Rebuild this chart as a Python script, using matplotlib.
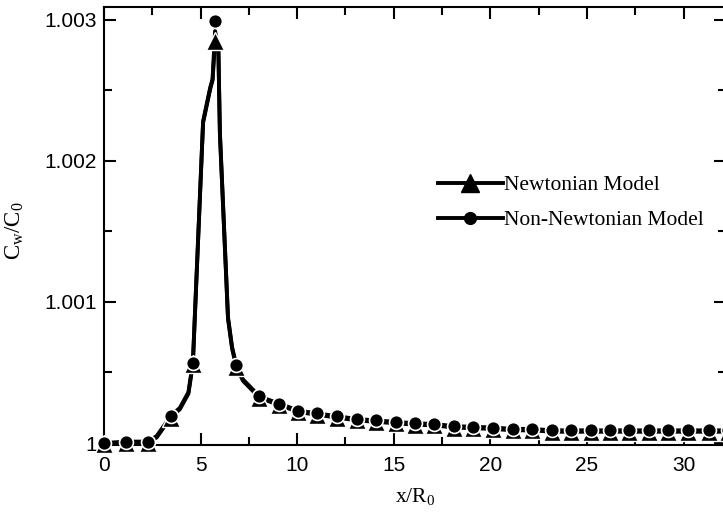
import matplotlib
matplotlib.use('Agg')
import matplotlib.pyplot as plt
from matplotlib.lines import Line2D
from matplotlib.ticker import MultipleLocator, FuncFormatter

plt.rcParams['mathtext.fontset'] = 'custom'
plt.rcParams['mathtext.rm'] = 'Liberation Serif'
plt.rcParams['mathtext.it'] = 'Liberation Serif:italic'

# marker positions (x/R0)
x_mark = [0, 1.14, 2.28, 3.45, 4.6, 5.75, 6.85, 8.03, 9.07, 10.05, 11.04, 12.07,
          13.1, 14.1, 15.1, 16.1, 17.1, 18.1, 19.1, 20.15, 21.15, 22.15, 23.2,
          24.2, 25.2, 26.2, 27.2, 28.2, 29.2, 30.25, 31.3, 32.3]
nonnewt_mark = [1.0, 1.00001, 1.00001, 1.00019, 1.00057, 1.00299, 1.00055, 1.00033,
                1.00028, 1.00023, 1.00021, 1.00019, 1.00017, 1.00016, 1.00015,
                1.00014, 1.000135, 1.00012, 1.000115, 1.00011, 1.0001, 1.0001,
                1.00009, 1.00009, 1.00009, 1.00009, 1.00009, 1.00009, 1.00009,
                1.00009, 1.00009, 1.00009]
newt_mark = [0.99999, 1.0, 1.0, 1.00018, 1.00056, 1.00285, 1.00054, 1.00032,
             1.00027, 1.00022, 1.0002, 1.00018, 1.00016, 1.00015, 1.00014,
             1.00013, 1.000125, 1.00011, 1.000105, 1.0001, 1.00009, 1.00009,
             1.00008, 1.00008, 1.00008, 1.00008, 1.00008, 1.00008, 1.00008,
             1.00008, 1.00008, 1.00008]

# curve points (denser near the peak)
x_line = [0, 1.14, 2.28, 2.73, 3.45, 3.93, 4.37, 4.6, 5.13, 5.5, 5.62, 5.75,
          5.92, 6.0, 6.42, 6.63, 6.85, 7.2, 7.7, 8.03, 9.07,
          10.05, 11.04, 12.07, 13.1, 14.1, 15.1, 16.1, 17.1, 18.1, 19.1, 20.15,
          21.15, 22.15, 23.2, 24.2, 25.2, 26.2, 27.2, 28.2, 29.2, 30.25, 31.3, 32.3]
nonnewt_line = [1.0, 1.00001, 1.00001, 1.00005, 1.00019, 1.00025, 1.00036,
                1.00057, 1.00228, 1.00252, 1.00258, 1.00292, 1.0028, 1.0022,
                1.00089, 1.00068, 1.00055, 1.00045, 1.00038, 1.00033, 1.00028,
                1.00023, 1.00021, 1.00019, 1.00017, 1.00016, 1.00015, 1.00014,
                1.000135, 1.00012, 1.000115, 1.00011, 1.0001, 1.0001, 1.00009,
                1.00009, 1.00009, 1.00009, 1.00009, 1.00009, 1.00009, 1.00009,
                1.00009, 1.00009]
newt_line = [0.99999, 1.0, 1.0, 1.00004, 1.00018, 1.00024, 1.00035, 1.00056,
             1.00227, 1.00251, 1.00257, 1.00285, 1.00279, 1.00219, 1.00088,
             1.00067, 1.00054, 1.00044, 1.00037, 1.00032, 1.00027, 1.00022,
             1.0002, 1.00018, 1.00016, 1.00015, 1.00014, 1.00013, 1.000125,
             1.00011, 1.000105, 1.0001, 1.00009, 1.00009, 1.00008, 1.00008,
             1.00008, 1.00008, 1.00008, 1.00008, 1.00008, 1.00008, 1.00008,
             1.00008]

labels = ['Newtonian Model', 'Non-Newtonian Model']

fig = plt.figure(figsize=(7.23, 5.18), dpi=100)
ax = fig.add_axes([104 / 723, 73 / 518, 622 / 723, 438 / 518])

ax.plot(x_line, newt_line, color='black', lw=2.8, zorder=2)
ax.plot(x_line, nonnewt_line, color='black', lw=2.8, zorder=2)
ax.plot(x_mark, newt_mark, ls='none', marker='^', ms=13, color='black',
        mec='white', mew=1.0, zorder=3, clip_on=False)
ax.plot(x_mark, nonnewt_mark, ls='none', marker='o', ms=10, color='black',
        mec='white', mew=1.2, zorder=4, clip_on=False)

ax.set_xlim(0, 32.2)
ax.set_ylim(0.999986, 1.00309)
ax.xaxis.set_major_locator(MultipleLocator(5))
ax.xaxis.set_minor_locator(MultipleLocator(2.5))
ax.yaxis.set_major_locator(MultipleLocator(0.001))
ax.yaxis.set_minor_locator(MultipleLocator(0.0005))
ax.yaxis.set_major_formatter(FuncFormatter(lambda v, p: '{:g}'.format(round(v, 4))))

ax.tick_params(which='both', direction='in', top=True, right=True, width=1.5)
ax.tick_params(which='major', length=8.5)
ax.tick_params(which='minor', length=5.5)
ax.tick_params(axis='x', pad=8)
ax.tick_params(axis='y', pad=5)
for t in ax.get_xticklabels() + ax.get_yticklabels():
    t.set_fontfamily('Liberation Sans')
    t.set_fontsize(15)
for s in ax.spines.values():
    s.set_linewidth(1.5)

ax.set_xlabel(r'x/R$_\mathrm{0}$', fontfamily='Liberation Serif', fontsize=15.5, labelpad=8)
ax.set_ylabel(r'C$_\mathrm{w}$/C$_\mathrm{0}$', fontfamily='Liberation Serif', fontsize=16.5, labelpad=6)
ax.yaxis.set_label_coords(-0.125, 0.49)

handles = [Line2D([], [], color='black', lw=2.8, marker='^', ms=13),
           Line2D([], [], color='black', lw=2.8, marker='o', ms=8.5)]
ax.legend(handles, labels, loc='upper left', bbox_to_anchor=(438 / 723, 1 - 175 / 518),
          bbox_transform=fig.transFigure, frameon=False, borderpad=0, borderaxespad=0,
          handlelength=3.0, handletextpad=0.05, labelspacing=0.7,
          prop={'family': 'Liberation Serif', 'size': 15.5})

fig.savefig('out.png', dpi=100)
